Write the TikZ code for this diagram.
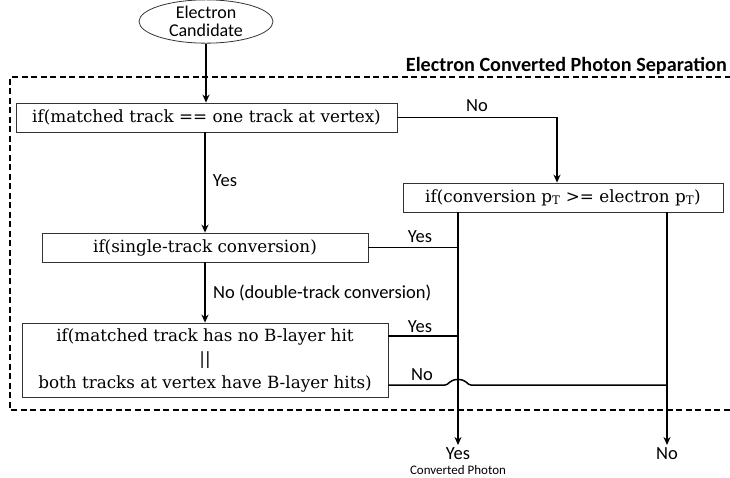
\documentclass[tikz,border=0pt]{standalone}
\usepackage{fontspec}
\setmainfont{DejaVu Serif}
\newfontfamily\lblfont{Carlito}
\usetikzlibrary{arrows.meta,shapes.geometric}
\begin{document}
\begin{tikzpicture}[x=1pt,y=-1pt,
  box/.style={draw=black!80, line width=0.8pt, minimum height=29pt, inner sep=0pt,
    font=\fontsize{16.8}{19}\selectfont},
  lbl/.style={font=\lblfont\fontsize{18.5}{20}\selectfont, inner sep=0pt},
  conn/.style={line width=1.5pt},
  arr/.style={conn, -{Stealth[length=8pt,width=7pt]}}]
\useasboundingbox (0,0) rectangle (730,477);
\clip (0,0) rectangle (730,477);

% dashed frame
\draw[line width=1.5pt, dash pattern=on 6pt off 3.5pt] (740,77) -- (10,77) -- (10,410) -- (740,410);
\node[font=\lblfont\bfseries\fontsize{20.2}{22}\selectfont, anchor=east, inner sep=0pt] (title) at (727,66) {Electron Converted Photon Separation};

% nodes
\node[ellipse, draw=black!80, line width=0.8pt, minimum width=134pt, minimum height=41pt,
  inner sep=0pt, align=center, font=\lblfont\fontsize{18}{18}\selectfont] (cand) at (206,21.5) {Electron\\Candidate};
\node[box, minimum width=381pt] (b1) at (206.5,117.5) {if(matched track == one track at vertex)};
\node[box, minimum width=326pt] (b2) at (205,247.5) {if(single-track conversion)};
\node[box, minimum width=320pt] (b3) at (563,197.5) {if(conversion p\textsubscript{T} >= electron p\textsubscript{T})};
\node[box, minimum width=366pt, minimum height=74pt, align=center,
  font=\fontsize{16.8}{23.5}\selectfont] (b4) at (205,360)
  {if(matched track has no B-layer hit\\||\\both tracks at vertex have B-layer hits)};

% coordinates
\coordinate (k1) at (557,117.5);
\coordinate (yesend) at (458,445);
\coordinate (noend) at (667,445);
\coordinate (jl) at (445,385);
\coordinate (jr) at (471,385);

% connectors
\draw[arr] (cand.south) -- (cand.south |- b1.north);
\draw[arr] (b2.north |- b1.south) -- (b2.north);
\draw[arr] (b2.south) -- (b4.north);
\draw[arr] (b1.east) -- (k1) -- (k1 |- b3.north);
\draw[arr] (b3.south -| yesend) -- (yesend);
\draw[arr] (b3.south -| noend) -- (noend);
\draw[conn] (b2.east) -- (b2.east -| yesend);
\draw[conn] ([yshift=24pt]b4.east) -- ([yshift=24pt]b4.east -| yesend);
\draw[conn] ([yshift=-25pt]b4.east) -- (jl)
  .. controls (449,385) and (449,379.5) .. (458,379.5)
  .. controls (467,379.5) and (467,385) .. (jr) -- (jr -| noend);

% labels
\node[lbl] (lyes1) at (225,181) {Yes};
\node[lbl, anchor=west] (lno2) at (213,293) {No (double-track conversion)};
\node[lbl] (lno1) at (477,106) {No};
\node[lbl] (lyes2) at (420,237) {Yes};
\node[lbl] (lyes3) at (420,327) {Yes};
\node[lbl] (lno3) at (422,375) {No};
\node[lbl, anchor=base] (lyes) at (458,459.5) {Yes};
\node[font=\lblfont\fontsize{13}{14}\selectfont, inner sep=0pt, anchor=base] (lconv) at (458,474) {Converted Photon};
\node[lbl, anchor=base] (lno) at (667,459.5) {No};
\end{tikzpicture}
\end{document}
